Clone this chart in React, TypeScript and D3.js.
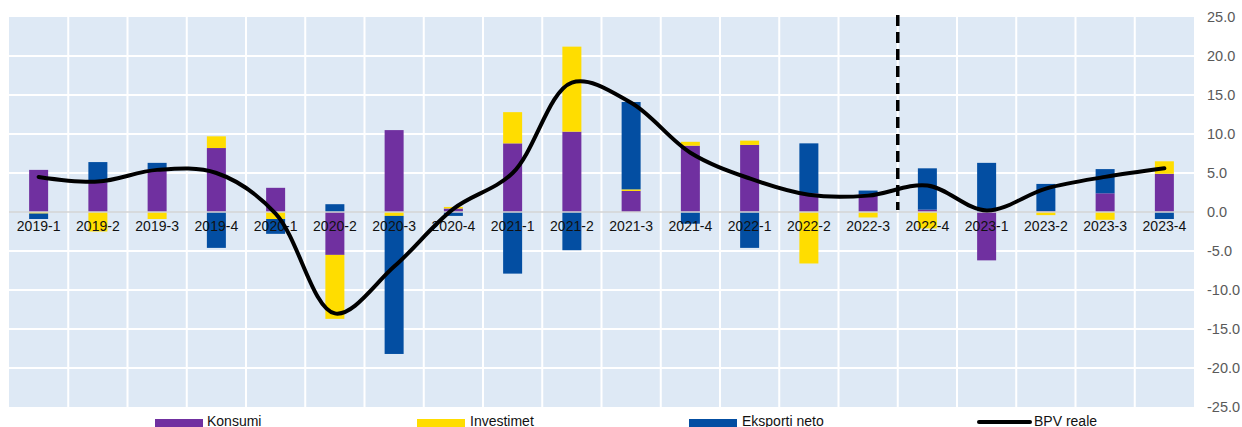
import React from "react";
import * as d3 from "d3";

const categories = [
  "2019-1", "2019-2", "2019-3", "2019-4",
  "2020-1", "2020-2", "2020-3", "2020-4",
  "2021-1", "2021-2", "2021-3", "2021-4",
  "2022-1", "2022-2", "2022-3", "2022-4",
  "2023-1", "2023-2", "2023-3", "2023-4",
];

const konsumi = [5.4, 3.8, 5.5, 8.2, 3.1, -5.5, 10.5, 0.45, 8.8, 10.3, 2.7, 8.5, 8.6, 2.4, 2.3, 0.3, -6.2, 0.1, 2.4, 4.9];
const investimet = [-0.2, -2.5, -0.9, 1.5, -0.9, -8.2, -0.5, 0.2, 4.0, 10.9, 0.2, 0.5, 0.55, -6.6, -0.7, -2.1, 0, -0.4, -1.0, 1.6];
const eksportiNeto = [-0.7, 2.6, 0.8, -4.6, -1.9, 1.0, -17.7, -0.5, -7.9, -4.9, 11.2, -1.5, -4.6, 6.4, 0.45, 5.3, 6.3, 3.5, 3.1, -0.9];
const bpvReale = [4.5, 3.9, 5.4, 5.0, -0.2, -13.0, -7.0, 0.4, 5.0, 16.6, 14.0, 7.6, 4.3, 2.2, 2.1, 3.4, 0.2, 3.0, 4.5, 5.6];

const yTicks = [25, 20, 15, 10, 5, 0, -5, -10, -15, -20, -25];
const seriesNames = ["Konsumi", "Investimet", "Eksporti neto"];
const lineName = "BPV reale";
const forecastStart = "2022-4";

const colors: Record<string, string> = {
  Konsumi: "#7030a0",
  Investimet: "#ffdd00",
  "Eksporti neto": "#034ea2",
};

const W = 1242;
const H = 427;
const plot = { left: 9, right: 1194, top: 17, bottom: 407 };

export default function App() {
  const x = d3.scaleBand<string>().domain(categories).range([plot.left, plot.right]).padding(0);
  const y = d3.scaleLinear().domain([-25, 25]).range([plot.bottom, plot.top]);
  const step = x.step();
  const barW = 19;

  const rows = categories.map((c, i) => ({
    cat: c,
    Konsumi: konsumi[i],
    Investimet: investimet[i],
    "Eksporti neto": eksportiNeto[i],
  }));
  const stacked = d3
    .stack<any>()
    .keys(seriesNames)
    .offset(d3.stackOffsetDiverging)(rows);

  const line = d3
    .line<number>()
    .x((_, i) => (x(categories[i]) as number) + step / 2)
    .y((d) => y(d))
    .curve(d3.curveCatmullRom.alpha(0.5));

  const fx = x(forecastStart) as number;
  const font = "'Liberation Sans', Arial, sans-serif";

  const legend = [
    { name: "Konsumi", x: 155, tx: 207, kind: "rect" },
    { name: "Investimet", x: 417, tx: 470, kind: "rect" },
    { name: "Eksporti neto", x: 689, tx: 742, kind: "rect" },
    { name: lineName, x: 979, tx: 1034, kind: "line" },
  ];

  return (
    <svg
      width={W}
      height={H}
      style={{ position: "absolute", left: 0, top: 0, background: "#fff" }}
      fontFamily={font}
    >
      <rect
        x={plot.left}
        y={plot.top}
        width={plot.right - plot.left}
        height={plot.bottom - plot.top}
        fill="#dee9f5"
      />
      {yTicks
        .filter((t) => t !== 25 && t !== -25 && t !== 0)
        .map((t) => (
          <line key={"h" + t} x1={plot.left} x2={plot.right} y1={y(t)} y2={y(t)} stroke="#fff" strokeWidth={2} />
        ))}
      {categories.slice(1).map((c) => (
        <line key={"v" + c} x1={x(c)} x2={x(c)} y1={plot.top} y2={plot.bottom} stroke="#fff" strokeWidth={2} />
      ))}
      {stacked.map((s) => (
        <g key={s.key} fill={colors[s.key]}>
          {s.map((d, i) => {
            const y0 = y(d[0]);
            const y1 = y(d[1]);
            return (
              <rect
                key={i}
                x={(x(categories[i]) as number) + (step - barW) / 2}
                y={Math.min(y0, y1)}
                width={barW}
                height={Math.abs(y0 - y1)}
              />
            );
          })}
        </g>
      ))}
      <line x1={plot.left} x2={plot.right} y1={y(0)} y2={y(0)} stroke="#d4d4d4" strokeWidth={1.6} />
      {categories.map((c) => (
        <text
          key={"l" + c}
          x={(x(c) as number) + step / 2}
          y={231}
          textAnchor="middle"
          fontSize={14}
          fill="#111"
        >
          {c}
        </text>
      ))}
      <line x1={fx} x2={fx} y1={15} y2={y(0) - 2} stroke="#000" strokeWidth={3.5} strokeDasharray="11,6" />
      <path d={line(bpvReale) || ""} fill="none" stroke="#000" strokeWidth={4} strokeLinejoin="round" strokeLinecap="round" />
      {yTicks.map((t) => (
        <text key={"y" + t} x={1207} y={y(t)} dy="0.36em" fontSize={14.5} fill="#595959">
          {t.toFixed(1)}
        </text>
      ))}
      {legend.map((l) => (
        <g key={l.name}>
          {l.kind === "rect" ? (
            <rect x={l.x} y={419} width={48} height={10} fill={colors[l.name]} />
          ) : (
            <line x1={l.x} x2={l.x + 51} y1={422} y2={422} stroke="#000" strokeWidth={4} strokeLinecap="round" />
          )}
          <text x={l.tx} y={426} fontSize={14} fill="#111">
            {l.name}
          </text>
        </g>
      ))}
    </svg>
  );
}
